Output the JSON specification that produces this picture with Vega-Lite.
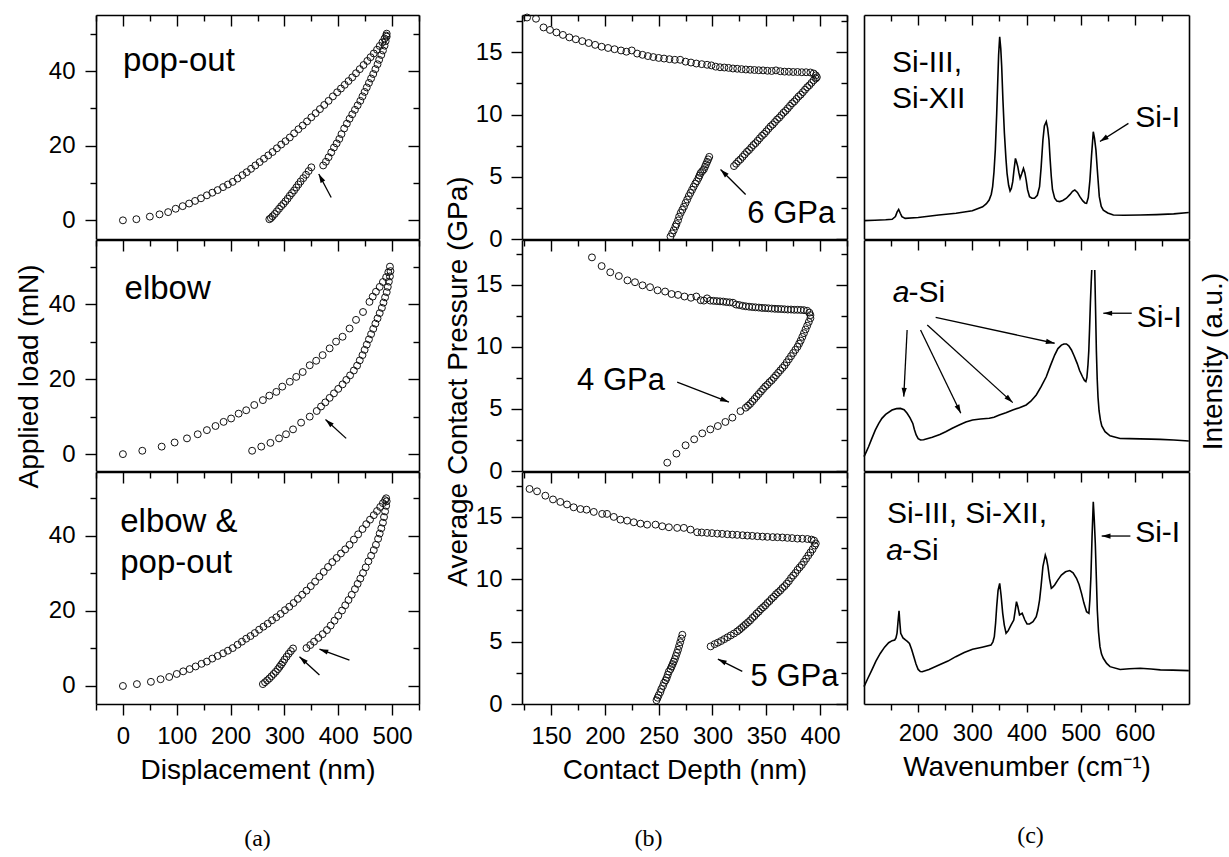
{
"$schema":"https://vega.github.io/schema/vega-lite/v6.json",
"background":"white",
"padding":{"left":15,"top":12,"right":5,"bottom":5},
"config":{"view":{"stroke":null},"axis":{"grid":false,"domainColor":"black","domainWidth":1.6,"tickColor":"black","tickWidth":1.4,"labelColor":"black","labelFont":"Liberation Sans","labelFontSize":24,"labelFlush":false,"titleFont":"Liberation Sans","titleFontSize":28,"titleFontWeight":"normal","titleColor":"black"}},
"datasets":{
"a1":[{"x":0,"y":0},{"x":25,"y":0.3},{"x":50,"y":1},{"x":68,"y":1.6},{"x":84,"y":2.2},{"x":98,"y":3.1},{"x":111,"y":3.8},{"x":123,"y":4.5},{"x":134,"y":5.2},{"x":145,"y":5.9},{"x":156,"y":6.7},{"x":166,"y":7.4},{"x":176,"y":8.1},{"x":186,"y":8.9},{"x":195,"y":9.6},{"x":204,"y":10.3},{"x":213,"y":11.2},{"x":222,"y":12.1},{"x":230,"y":12.9},{"x":238,"y":13.8},{"x":246,"y":14.7},{"x":254,"y":15.6},{"x":262,"y":16.5},{"x":270,"y":17.4},{"x":278,"y":18.3},{"x":286,"y":19.3},{"x":294,"y":20.3},{"x":302,"y":21.2},{"x":310,"y":22.2},{"x":318,"y":23.3},{"x":326,"y":24.4},{"x":334,"y":25.4},{"x":342,"y":26.5},{"x":350,"y":27.6},{"x":358,"y":28.7},{"x":366,"y":29.8},{"x":374,"y":30.9},{"x":382,"y":32},{"x":390,"y":33.2},{"x":398,"y":34.3},{"x":405,"y":35.3},{"x":412,"y":36.3},{"x":419,"y":37.3},{"x":426,"y":38.3},{"x":433,"y":39.4},{"x":440,"y":40.5},{"x":447,"y":41.6},{"x":454,"y":42.7},{"x":460,"y":43.7},{"x":466,"y":44.7},{"x":472,"y":45.7},{"x":477,"y":46.7},{"x":482,"y":47.7},{"x":486,"y":48.7},{"x":489,"y":49.5},{"x":490,"y":50},{"x":490,"y":49.2},{"x":488,"y":48},{"x":486,"y":46.8},{"x":483,"y":45.5},{"x":480,"y":44.3},{"x":476,"y":43},{"x":473,"y":41.8},{"x":469,"y":40.5},{"x":465,"y":39.2},{"x":461,"y":38},{"x":457,"y":36.8},{"x":453,"y":35.6},{"x":449,"y":34.4},{"x":445,"y":33.2},{"x":441,"y":32},{"x":436,"y":30.8},{"x":431,"y":29.6},{"x":426,"y":28.4},{"x":421,"y":27.2},{"x":416,"y":25.9},{"x":411,"y":24.6},{"x":406,"y":23.1},{"x":402,"y":21.8},{"x":397,"y":20.6},{"x":392,"y":19.5},{"x":387,"y":18.2},{"x":382,"y":16.9},{"x":377,"y":15.7},{"x":372,"y":14.7},{"x":350,"y":14.2},{"x":345,"y":13.2},{"x":340,"y":12.2},{"x":335,"y":11.3},{"x":330,"y":10.4},{"x":326,"y":9.6},{"x":322,"y":8.8},{"x":318,"y":8},{"x":314,"y":7.3},{"x":310,"y":6.6},{"x":306,"y":5.8},{"x":302,"y":5.1},{"x":298,"y":4.4},{"x":294,"y":3.8},{"x":290,"y":3.1},{"x":286,"y":2.4},{"x":282,"y":1.7},{"x":278,"y":1.1},{"x":275,"y":0.6},{"x":272,"y":0.3}],
"a1arr":[{"x":386.9,"y":6.1,"x2":363.8,"y2":12.4,"ang":332}],
"a1txt":[{"x":0,"y":40.1,"t":"pop-out"}],
"a2":[{"x":0,"y":0},{"x":36,"y":0.9},{"x":72,"y":2},{"x":96,"y":3.1},{"x":119,"y":4.2},{"x":139,"y":5.3},{"x":156,"y":6.4},{"x":172,"y":7.5},{"x":187,"y":8.6},{"x":201,"y":9.5},{"x":215,"y":10.8},{"x":229,"y":11.7},{"x":244,"y":13.1},{"x":260,"y":14.4},{"x":272,"y":15.6},{"x":285,"y":16.6},{"x":296,"y":18},{"x":310,"y":19.3},{"x":322,"y":20.6},{"x":334,"y":21.9},{"x":347,"y":23.7},{"x":359,"y":24.9},{"x":371,"y":26.4},{"x":384,"y":28.2},{"x":396,"y":30},{"x":408,"y":31.3},{"x":421,"y":33.5},{"x":433,"y":35.8},{"x":446,"y":37.9},{"x":458,"y":40.6},{"x":464,"y":42},{"x":470,"y":43.3},{"x":477,"y":44.6},{"x":483,"y":45.9},{"x":489,"y":47.2},{"x":493,"y":48.5},{"x":496,"y":50},{"x":497,"y":48.8},{"x":496,"y":47.4},{"x":494,"y":46},{"x":492,"y":44.6},{"x":490,"y":43.2},{"x":487,"y":41.8},{"x":484,"y":40.4},{"x":481,"y":39},{"x":477,"y":37.6},{"x":473,"y":36.2},{"x":469,"y":34.8},{"x":465,"y":33.4},{"x":461,"y":32},{"x":457,"y":30.6},{"x":453,"y":29.2},{"x":449,"y":27.8},{"x":445,"y":26.4},{"x":440,"y":25},{"x":435,"y":23.6},{"x":429,"y":22.3},{"x":422,"y":21},{"x":415,"y":19.8},{"x":408,"y":18.6},{"x":400,"y":17.4},{"x":392,"y":16.2},{"x":384,"y":15},{"x":376,"y":13.8},{"x":368,"y":12.7},{"x":360,"y":11.5},{"x":347,"y":10},{"x":331,"y":8.4},{"x":316,"y":6.6},{"x":303,"y":5.3},{"x":290,"y":4.2},{"x":274,"y":3},{"x":257,"y":2},{"x":240,"y":0.9}],
"a2arr":[{"x":414.7,"y":4.2,"x2":376.3,"y2":9.25,"ang":312.5}],
"a2txt":[{"x":3,"y":41.3,"t":"elbow"}],
"a3":[{"x":0,"y":0},{"x":26,"y":0.5},{"x":52,"y":1.1},{"x":70,"y":1.8},{"x":86,"y":2.4},{"x":100,"y":3.2},{"x":112,"y":3.9},{"x":124,"y":4.5},{"x":135,"y":5.2},{"x":146,"y":5.9},{"x":156,"y":6.5},{"x":166,"y":7.3},{"x":176,"y":8},{"x":186,"y":8.7},{"x":195,"y":9.4},{"x":204,"y":10.1},{"x":213,"y":11},{"x":221,"y":11.8},{"x":229,"y":12.6},{"x":237,"y":13.3},{"x":245,"y":14.1},{"x":253,"y":15},{"x":261,"y":15.8},{"x":269,"y":16.6},{"x":277,"y":17.5},{"x":285,"y":18.3},{"x":293,"y":19.2},{"x":301,"y":20.2},{"x":309,"y":21.1},{"x":317,"y":22.1},{"x":325,"y":23.2},{"x":333,"y":24.3},{"x":341,"y":25.4},{"x":349,"y":26.6},{"x":357,"y":27.8},{"x":365,"y":29.1},{"x":373,"y":30.4},{"x":381,"y":31.7},{"x":389,"y":33},{"x":397,"y":34.1},{"x":405,"y":35.3},{"x":413,"y":36.4},{"x":421,"y":37.6},{"x":429,"y":39},{"x":437,"y":40.4},{"x":445,"y":41.8},{"x":452,"y":43.1},{"x":459,"y":44.3},{"x":466,"y":45.5},{"x":472,"y":46.6},{"x":478,"y":47.7},{"x":483,"y":48.7},{"x":487,"y":49.5},{"x":489,"y":50},{"x":490,"y":49.2},{"x":489,"y":48},{"x":487,"y":46.5},{"x":485,"y":45},{"x":483,"y":43.5},{"x":480,"y":42},{"x":477,"y":40.6},{"x":474,"y":39.2},{"x":470,"y":37.6},{"x":466,"y":36.2},{"x":461,"y":34.7},{"x":456,"y":33.2},{"x":451,"y":31.6},{"x":446,"y":30.1},{"x":441,"y":28.6},{"x":436,"y":27.2},{"x":431,"y":25.8},{"x":425,"y":24.3},{"x":419,"y":22.9},{"x":413,"y":21.5},{"x":407,"y":20.1},{"x":400,"y":18.7},{"x":393,"y":17.4},{"x":386,"y":16.1},{"x":379,"y":14.9},{"x":371,"y":13.8},{"x":363,"y":12.8},{"x":355,"y":11.8},{"x":348,"y":10.9},{"x":341,"y":10.1},{"x":316,"y":10},{"x":312,"y":9.3},{"x":308,"y":8.6},{"x":304,"y":7.8},{"x":300,"y":7},{"x":297,"y":6.3},{"x":294,"y":5.7},{"x":291,"y":5.1},{"x":288,"y":4.5},{"x":284,"y":3.8},{"x":280,"y":3.2},{"x":276,"y":2.6},{"x":272,"y":2},{"x":268,"y":1.5},{"x":264,"y":1},{"x":260,"y":0.5}],
"a3arr":[{"x":365.1,"y":2.9,"x2":328,"y2":7.8,"ang":312},{"x":420.8,"y":6.9,"x2":365.1,"y2":9.8,"ang":289.6}],
"a3txt":[{"x":-5,"y":41.1,"t":"elbow &"},{"x":-5,"y":30,"t":"pop-out"}],
"b1":[{"x":127.7,"y":17.8},{"x":136,"y":17.7},{"x":143,"y":17},{"x":149,"y":16.8},{"x":155,"y":16.6},{"x":161,"y":16.4},{"x":167,"y":16.2},{"x":173,"y":16.05},{"x":179,"y":15.9},{"x":185,"y":15.75},{"x":191,"y":15.6},{"x":197,"y":15.45},{"x":203,"y":15.35},{"x":209,"y":15.25},{"x":215,"y":15.15},{"x":220,"y":15.05},{"x":225,"y":15.15},{"x":230,"y":14.9},{"x":235,"y":14.8},{"x":240,"y":14.7},{"x":245,"y":14.62},{"x":250,"y":14.55},{"x":255,"y":14.5},{"x":260,"y":14.45},{"x":265,"y":14.4},{"x":270,"y":14.4},{"x":275,"y":14.25},{"x":280,"y":14.18},{"x":285,"y":14.1},{"x":290,"y":14.05},{"x":295,"y":14},{"x":299,"y":13.95},{"x":303,"y":13.85},{"x":307,"y":13.8},{"x":311,"y":13.78},{"x":315,"y":13.75},{"x":319,"y":13.7},{"x":323,"y":13.68},{"x":327,"y":13.65},{"x":331,"y":13.62},{"x":335,"y":13.6},{"x":339,"y":13.58},{"x":343,"y":13.56},{"x":347,"y":13.55},{"x":351,"y":13.52},{"x":355,"y":13.5},{"x":359,"y":13.55},{"x":363,"y":13.48},{"x":367,"y":13.45},{"x":371,"y":13.44},{"x":375,"y":13.42},{"x":379,"y":13.42},{"x":383,"y":13.4},{"x":387,"y":13.4},{"x":391,"y":13.38},{"x":394,"y":13.3},{"x":396,"y":13.15},{"x":397,"y":13},{"x":396,"y":12.9},{"x":394,"y":12.75},{"x":392,"y":12.55},{"x":390,"y":12.35},{"x":388,"y":12.2},{"x":386,"y":12},{"x":384,"y":11.8},{"x":382,"y":11.6},{"x":380,"y":11.45},{"x":378,"y":11.25},{"x":376,"y":11.05},{"x":374,"y":10.9},{"x":372,"y":10.7},{"x":370,"y":10.5},{"x":368,"y":10.3},{"x":366,"y":10.15},{"x":364,"y":9.95},{"x":362,"y":9.75},{"x":360,"y":9.6},{"x":358,"y":9.4},{"x":356,"y":9.2},{"x":354,"y":9.05},{"x":352,"y":8.85},{"x":350,"y":8.65},{"x":348,"y":8.45},{"x":346,"y":8.3},{"x":344,"y":8.1},{"x":342,"y":7.9},{"x":340,"y":7.7},{"x":338,"y":7.55},{"x":336,"y":7.35},{"x":334,"y":7.15},{"x":332,"y":7},{"x":330,"y":6.8},{"x":328,"y":6.6},{"x":326,"y":6.4},{"x":324,"y":6.25},{"x":322,"y":6.05},{"x":320,"y":5.86},{"x":297,"y":6.6},{"x":296,"y":6.4},{"x":295,"y":6.2},{"x":294,"y":6},{"x":293,"y":5.8},{"x":292,"y":5.6},{"x":290.5,"y":5.45},{"x":289,"y":5.3},{"x":288,"y":5.1},{"x":287,"y":4.9},{"x":285.5,"y":4.65},{"x":284,"y":4.45},{"x":282.5,"y":4.2},{"x":281,"y":3.95},{"x":279.5,"y":3.7},{"x":278,"y":3.45},{"x":276.5,"y":3.17},{"x":275,"y":2.9},{"x":273.5,"y":2.6},{"x":272,"y":2.35},{"x":270.5,"y":2.1},{"x":269,"y":1.8},{"x":268,"y":1.5},{"x":266.5,"y":1.2},{"x":265.5,"y":1},{"x":264,"y":0.7},{"x":262.5,"y":0.45},{"x":261,"y":0.2}],
"b1arr":[{"x":330.8,"y":3.57,"x2":307.5,"y2":5.59,"ang":315}],
"b1txt":[{"x":332.4,"y":1.29,"t":"6 GPa"}],
"b2":[{"x":188,"y":17.2},{"x":197,"y":16.5},{"x":205,"y":16},{"x":213,"y":15.7},{"x":221,"y":15.35},{"x":228,"y":15.2},{"x":235,"y":14.95},{"x":242,"y":14.8},{"x":249,"y":14.55},{"x":256,"y":14.45},{"x":262,"y":14.25},{"x":268,"y":14.18},{"x":274,"y":14.05},{"x":280,"y":13.95},{"x":285,"y":14.05},{"x":289,"y":13.75},{"x":292,"y":13.72},{"x":295,"y":13.9},{"x":298,"y":13.72},{"x":301,"y":13.7},{"x":304,"y":13.68},{"x":307,"y":13.66},{"x":310,"y":13.64},{"x":313,"y":13.6},{"x":316,"y":13.58},{"x":319,"y":13.55},{"x":322,"y":13.4},{"x":325,"y":13.36},{"x":328,"y":13.3},{"x":331,"y":13.26},{"x":334,"y":13.23},{"x":337,"y":13.2},{"x":340,"y":13.18},{"x":343,"y":13.16},{"x":346,"y":13.13},{"x":349,"y":13.12},{"x":352,"y":13.1},{"x":355,"y":13.08},{"x":358,"y":13.06},{"x":361,"y":13.05},{"x":364,"y":13.04},{"x":367,"y":13.02},{"x":370,"y":13},{"x":373,"y":13},{"x":376,"y":12.98},{"x":379,"y":12.98},{"x":382,"y":12.97},{"x":385,"y":12.95},{"x":388,"y":12.9},{"x":390,"y":12.75},{"x":391,"y":12.55},{"x":391,"y":12.3},{"x":389.5,"y":12},{"x":388,"y":11.7},{"x":386.5,"y":11.4},{"x":385,"y":11.1},{"x":383.5,"y":10.8},{"x":382,"y":10.5},{"x":380.5,"y":10.25},{"x":379,"y":10},{"x":377,"y":9.75},{"x":375,"y":9.5},{"x":373,"y":9.25},{"x":371,"y":9},{"x":369,"y":8.75},{"x":367,"y":8.5},{"x":365,"y":8.3},{"x":363,"y":8.1},{"x":361,"y":7.9},{"x":359,"y":7.7},{"x":357,"y":7.5},{"x":355,"y":7.3},{"x":353,"y":7.15},{"x":351,"y":6.95},{"x":349,"y":6.8},{"x":347,"y":6.6},{"x":345,"y":6.4},{"x":343,"y":6.2},{"x":341,"y":6},{"x":339,"y":5.8},{"x":337,"y":5.6},{"x":335,"y":5.4},{"x":333,"y":5.25},{"x":331,"y":5.1},{"x":326,"y":4.82},{"x":318.5,"y":4.3},{"x":312,"y":3.95},{"x":305,"y":3.62},{"x":298,"y":3.35},{"x":290.5,"y":3.03},{"x":283,"y":2.55},{"x":275,"y":2.07},{"x":266.5,"y":1.4},{"x":258,"y":0.67}],
"b2arr":[{"x":267.2,"y":7.15,"x2":315.3,"y2":5.55,"ang":111}],
"b2txt":[{"x":174.2,"y":6.49,"t":"4 GPa"}],
"b3":[{"x":130,"y":17.24},{"x":137,"y":17.05},{"x":144.7,"y":16.7},{"x":151.8,"y":16.4},{"x":158.6,"y":16.2},{"x":164.8,"y":16},{"x":171,"y":15.77},{"x":177.3,"y":15.63},{"x":183,"y":15.58},{"x":189.7,"y":15.4},{"x":197.5,"y":15.24},{"x":202,"y":15.24},{"x":208.3,"y":15},{"x":214.5,"y":14.78},{"x":220.7,"y":14.7},{"x":226.9,"y":14.57},{"x":233.1,"y":14.46},{"x":239.3,"y":14.38},{"x":247.1,"y":14.38},{"x":253.3,"y":14.25},{"x":259.5,"y":14.17},{"x":267.2,"y":14.12},{"x":273.4,"y":14.12},{"x":279.6,"y":13.98},{"x":285.8,"y":13.77},{"x":290,"y":13.75},{"x":295,"y":13.72},{"x":299.5,"y":13.7},{"x":304.5,"y":13.66},{"x":309,"y":13.64},{"x":313.8,"y":13.61},{"x":318.5,"y":13.58},{"x":323,"y":13.56},{"x":328,"y":13.53},{"x":332.4,"y":13.5},{"x":337,"y":13.48},{"x":341.7,"y":13.45},{"x":346.5,"y":13.42},{"x":351,"y":13.4},{"x":356,"y":13.38},{"x":360.3,"y":13.37},{"x":365,"y":13.35},{"x":369.6,"y":13.32},{"x":374,"y":13.3},{"x":378.9,"y":13.26},{"x":383.5,"y":13.25},{"x":388.2,"y":13.23},{"x":392,"y":13.18},{"x":394.4,"y":13.1},{"x":396,"y":12.87},{"x":395,"y":12.7},{"x":393,"y":12.4},{"x":391,"y":12.15},{"x":389,"y":11.9},{"x":387,"y":11.65},{"x":385,"y":11.4},{"x":383,"y":11.15},{"x":381,"y":10.95},{"x":379,"y":10.75},{"x":377,"y":10.5},{"x":375,"y":10.3},{"x":373,"y":10.1},{"x":371,"y":9.85},{"x":369,"y":9.65},{"x":367,"y":9.45},{"x":365,"y":9.3},{"x":363,"y":9.1},{"x":361,"y":8.95},{"x":359,"y":8.8},{"x":357,"y":8.6},{"x":355,"y":8.45},{"x":353,"y":8.25},{"x":351,"y":8.1},{"x":349,"y":7.9},{"x":347,"y":7.75},{"x":345,"y":7.6},{"x":343,"y":7.4},{"x":341,"y":7.25},{"x":339,"y":7.05},{"x":337,"y":6.9},{"x":335,"y":6.7},{"x":333,"y":6.55},{"x":331,"y":6.4},{"x":329,"y":6.25},{"x":327,"y":6.1},{"x":325,"y":5.95},{"x":323,"y":5.82},{"x":320,"y":5.65},{"x":317,"y":5.5},{"x":314,"y":5.35},{"x":311,"y":5.2},{"x":308,"y":5.05},{"x":305,"y":4.92},{"x":302,"y":4.8},{"x":298.3,"y":4.62},{"x":272,"y":5.55},{"x":271,"y":5.25},{"x":270,"y":4.95},{"x":269,"y":4.65},{"x":268,"y":4.35},{"x":267,"y":4.1},{"x":266,"y":3.85},{"x":265,"y":3.6},{"x":264,"y":3.4},{"x":263,"y":3.2},{"x":262,"y":3},{"x":261,"y":2.8},{"x":259.5,"y":2.6},{"x":258.5,"y":2.35},{"x":257.5,"y":2.1},{"x":256.5,"y":1.9},{"x":255,"y":1.7},{"x":254,"y":1.45},{"x":252.5,"y":1.2},{"x":251.5,"y":0.95},{"x":250,"y":0.7},{"x":249,"y":0.5},{"x":248,"y":0.3}],
"b3arr":[{"x":327.7,"y":2.62,"x2":305,"y2":3.6,"ang":296.7}],
"b3txt":[{"x":335.4,"y":1.47,"t":"5 GPa"}],
"c1":[{"x":100,"y":8.2},{"x":120,"y":8.4},{"x":140,"y":8.6},{"x":152,"y":8.8},{"x":158,"y":10},{"x":161,"y":12},{"x":164,"y":13.2},{"x":167,"y":11.5},{"x":170,"y":10},{"x":176,"y":9.2},{"x":200,"y":9.6},{"x":238,"y":10.7},{"x":270,"y":11.5},{"x":300,"y":12.6},{"x":319,"y":14.4},{"x":326,"y":15.8},{"x":331,"y":17.4},{"x":335,"y":20},{"x":337.5,"y":23.4},{"x":340,"y":30},{"x":342.4,"y":39.7},{"x":345,"y":56},{"x":346.8,"y":69.5},{"x":348.5,"y":82},{"x":350.5,"y":90.3},{"x":352.5,"y":85},{"x":354.2,"y":77},{"x":356.5,"y":62},{"x":359.2,"y":47.2},{"x":362,"y":36},{"x":364.1,"y":29.3},{"x":367,"y":24},{"x":369.7,"y":21.4},{"x":372,"y":22.5},{"x":374.6,"y":25.6},{"x":377,"y":31},{"x":379.6,"y":36},{"x":381.5,"y":34.5},{"x":383.9,"y":32.3},{"x":386,"y":29.5},{"x":388.2,"y":27.1},{"x":391,"y":29},{"x":394.4,"y":31.5},{"x":397,"y":29.5},{"x":399.4,"y":26.3},{"x":402,"y":22},{"x":405.6,"y":18.9},{"x":410,"y":18.2},{"x":414.8,"y":18.2},{"x":420,"y":19.5},{"x":424.1,"y":23.4},{"x":427,"y":32},{"x":430.3,"y":44.2},{"x":433,"y":50.5},{"x":436.5,"y":52.4},{"x":439,"y":49.5},{"x":441.5,"y":44.2},{"x":443.5,"y":36},{"x":445.8,"y":27.8},{"x":448,"y":22},{"x":452,"y":18.2},{"x":456,"y":17},{"x":461.3,"y":16.7},{"x":467,"y":17.2},{"x":473.7,"y":18.2},{"x":480,"y":19.8},{"x":485,"y":21.3},{"x":489.2,"y":21.9},{"x":494,"y":20.8},{"x":498.5,"y":18.9},{"x":504,"y":17},{"x":508,"y":16.1},{"x":510.9,"y":15.9},{"x":514,"y":18.5},{"x":517.1,"y":26.3},{"x":520,"y":37},{"x":523.3,"y":47.9},{"x":525.5,"y":45},{"x":528.2,"y":39.7},{"x":531,"y":30},{"x":534.4,"y":18.9},{"x":538,"y":14.5},{"x":541.8,"y":12.9},{"x":550,"y":11.6},{"x":560.4,"y":10.7},{"x":580,"y":10.6},{"x":609.9,"y":10.7},{"x":640,"y":10.9},{"x":671.8,"y":11.2},{"x":699.7,"y":11.8}],
"c1arr":[{"x":588.2,"y":51.6,"x2":535.6,"y2":43.5,"ang":237}],
"c1txt":[{"x":151.7,"y":74.7,"t":"Si-III,"},{"x":151.7,"y":58.3,"t":"Si-XII"},{"x":600.6,"y":50.1,"t":"Si-I"}],
"c2":[{"x":100,"y":6.2},{"x":104,"y":8.2},{"x":108.4,"y":10.5},{"x":114,"y":13.8},{"x":120.8,"y":17.7},{"x":127,"y":20.5},{"x":133.1,"y":22.8},{"x":140,"y":24.5},{"x":151.7,"y":26.4},{"x":160,"y":27},{"x":167.2,"y":27.1},{"x":174,"y":26.5},{"x":179.6,"y":25},{"x":185,"y":23},{"x":190.1,"y":20.6},{"x":193,"y":18},{"x":196.3,"y":15.6},{"x":200,"y":14},{"x":204.4,"y":13.4},{"x":210,"y":13.5},{"x":226.1,"y":14.6},{"x":240,"y":15.8},{"x":250.8,"y":17},{"x":263,"y":18.5},{"x":275.6,"y":19.9},{"x":288,"y":21.2},{"x":300.4,"y":22.1},{"x":315,"y":22.5},{"x":331.3,"y":22.8},{"x":340,"y":23.3},{"x":349.9,"y":24.2},{"x":362,"y":25.2},{"x":374.6,"y":26.4},{"x":387,"y":27.4},{"x":399.4,"y":28.6},{"x":408,"y":30.2},{"x":418,"y":32.9},{"x":427,"y":36.5},{"x":436.5,"y":40.8},{"x":444,"y":45.5},{"x":452,"y":50.2},{"x":458,"y":53},{"x":464.4,"y":54.5},{"x":469,"y":55},{"x":473.7,"y":55},{"x":478,"y":54.2},{"x":483,"y":52.4},{"x":488,"y":49.8},{"x":493.5,"y":46.6},{"x":498,"y":43.5},{"x":503.4,"y":40.8},{"x":507,"y":39.2},{"x":509.6,"y":38.7},{"x":511.5,"y":40.5},{"x":513.5,"y":46},{"x":515,"y":52},{"x":516.5,"y":62},{"x":518,"y":73},{"x":519.5,"y":82},{"x":520.5,"y":87},{"x":523,"y":null},{"x":526,"y":87},{"x":527.5,"y":70},{"x":529,"y":52},{"x":530.5,"y":40},{"x":532,"y":32},{"x":534,"y":26},{"x":536.5,"y":22},{"x":539,"y":19.5},{"x":545,"y":17},{"x":554.2,"y":15.2},{"x":572.8,"y":14.1},{"x":590,"y":14},{"x":609.9,"y":13.9},{"x":630,"y":13.8},{"x":647.1,"y":13.7},{"x":671.8,"y":13.4},{"x":699.7,"y":13}],
"c2arr":[{"x":179.6,"y":61,"x2":173.4,"y2":32.2,"ang":183},{"x":204.4,"y":61,"x2":278.7,"y2":25,"ang":154.3},{"x":216.8,"y":63.2,"x2":374.6,"y2":29.6,"ang":132.4},{"x":232.3,"y":66.5,"x2":452,"y2":55.3,"ang":102.4},{"x":594.3,"y":68.3,"x2":541.8,"y2":68.3,"ang":270}],
"c2txt":[{"x":603.6,"y":62.5,"t":"Si-I"},{"x":182,"y":73.3,"t":"-Si"}],
"c2ital":[{"x":153,"y":73.3,"t":"a"}],
"c3":[{"x":100,"y":7.5},{"x":107,"y":11},{"x":114.6,"y":14.7},{"x":122,"y":18.5},{"x":130,"y":21.8},{"x":138,"y":24.5},{"x":145.5,"y":26.4},{"x":152,"y":27.3},{"x":156.7,"y":27.6},{"x":159,"y":28.5},{"x":161,"y":30.5},{"x":163,"y":36},{"x":164.7,"y":40.2},{"x":166.2,"y":35},{"x":167.8,"y":30.5},{"x":172,"y":28.5},{"x":176.5,"y":27.6},{"x":180,"y":27},{"x":183.9,"y":26.1},{"x":188,"y":23.5},{"x":192,"y":20.4},{"x":196,"y":17.2},{"x":200,"y":14.9},{"x":204,"y":14},{"x":207.4,"y":13.9},{"x":220,"y":14.9},{"x":238.4,"y":16.8},{"x":255,"y":18.5},{"x":269.4,"y":20.4},{"x":285,"y":22.2},{"x":300.4,"y":23.6},{"x":318,"y":24.5},{"x":334.4,"y":25.4},{"x":338,"y":26.8},{"x":340.6,"y":29},{"x":343,"y":35},{"x":345,"y":42},{"x":347.5,"y":49},{"x":350.5,"y":52},{"x":353,"y":47},{"x":356.1,"y":39.1},{"x":359,"y":34},{"x":362.3,"y":30.5},{"x":366,"y":31.5},{"x":371.6,"y":34.1},{"x":376.5,"y":36.2},{"x":379,"y":40},{"x":381.5,"y":44.1},{"x":384,"y":42},{"x":387.1,"y":38.4},{"x":392,"y":39.1},{"x":397,"y":36.2},{"x":401,"y":34.5},{"x":405.6,"y":34.5},{"x":412,"y":35.5},{"x":418,"y":37.6},{"x":421,"y":40.5},{"x":424.1,"y":44.8},{"x":427,"y":51},{"x":430.3,"y":59.2},{"x":434.7,"y":64.2},{"x":437,"y":62.5},{"x":439.6,"y":59.2},{"x":442.5,"y":54},{"x":445.8,"y":49.9},{"x":448,"y":50.3},{"x":452,"y":51.3},{"x":458,"y":53.5},{"x":464.4,"y":55.6},{"x":472,"y":57},{"x":479.9,"y":57.5},{"x":486,"y":56.5},{"x":492.3,"y":54.2},{"x":497,"y":51.5},{"x":501.6,"y":47.7},{"x":506,"y":43.5},{"x":510.9,"y":39.8},{"x":515.2,"y":39.1},{"x":517,"y":45},{"x":518.9,"y":54.9},{"x":521,"y":72},{"x":523.3,"y":87.2},{"x":525,"y":80},{"x":527,"y":69.3},{"x":529,"y":54},{"x":530.7,"y":40.5},{"x":533,"y":31},{"x":535.6,"y":24.7},{"x":538.5,"y":21.5},{"x":541.8,"y":19.7},{"x":548,"y":17.5},{"x":554.2,"y":16.1},{"x":572.8,"y":14.9},{"x":590,"y":15.2},{"x":609.9,"y":15.4},{"x":630,"y":15.1},{"x":647.1,"y":14.7},{"x":670,"y":14.6},{"x":699.7,"y":14.4}],
"c3arr":[{"x":591.8,"y":72.4,"x2":538.8,"y2":72.4,"ang":270}],
"c3txt":[{"x":142.4,"y":77.9,"t":"Si-III, Si-XII,"},{"x":170,"y":62.1,"t":"-Si"},{"x":600.6,"y":70,"t":"Si-I"}],
"c3ital":[{"x":141,"y":62.1,"t":"a"}]
},
"columns":3,
"spacing":{"row":1,"column":17},
"bounds":"flush",
"concat":[
 {"width":409,"height":224,"resolve":{"axis":{"x":"independent","y":"independent"}},"layer":[
  {"data":{"name":"a1"},"mark":{"type":"point","shape":"circle","size":48,"filled":false,"color":"#111111","strokeWidth":1,"opacity":1},"encoding":{"x":{"field":"x","type":"quantitative","scale":{"domain":[-50,550],"range":[0,323],"nice":false,"zero":false},"axis":{"orient":"bottom","ticks":false,"labels":false,"title":null}},"y":{"field":"y","type":"quantitative","scale":{"domain":[-5,55],"nice":false,"zero":false},"axis":{"orient":"left","values":[0,20,40],"tickSize":11,"labelPadding":10,"title":null}}}},
  {"data":{"name":"a1arr"},"mark":{"type":"rule","color":"black","strokeWidth":1.3},"encoding":{"x":{"field":"x","type":"quantitative","scale":{"domain":[-50,550],"range":[0,323],"nice":false,"zero":false},"axis":{"orient":"top","values":[0,100,200,300,400,500],"tickSize":-11,"labels":false,"title":null}},"y":{"field":"y","type":"quantitative","scale":{"domain":[-5,55],"nice":false,"zero":false},"axis":{"orient":"right","offset":-86,"values":[0,20,40],"tickSize":-11,"labels":false,"title":null}},"x2":{"field":"x2"},"y2":{"field":"y2"}}},
  {"data":{"name":"a1arr"},"mark":{"type":"point","shape":"M0,0L0.65,2.2L-0.65,2.2Z","size":64,"filled":true,"color":"black","opacity":1},"encoding":{"x":{"field":"x2","type":"quantitative","scale":{"domain":[-50,550],"range":[0,323],"nice":false,"zero":false},"axis":null},"y":{"field":"y2","type":"quantitative","scale":{"domain":[-5,55],"nice":false,"zero":false},"axis":{"orient":"left","values":[10,30,50],"tickSize":6,"labels":false,"domain":false,"title":null}},"angle":{"field":"ang","type":"quantitative","scale":null}}},
  {"data":{"name":"a1txt"},"mark":{"type":"text","align":"left","baseline":"alphabetic","font":"Liberation Sans","fontSize":33,"color":"black"},"encoding":{"x":{"field":"x","type":"quantitative","scale":{"domain":[-50,550],"range":[0,323],"nice":false,"zero":false},"axis":{"orient":"top","values":[-50,50,150,250,350,450,550],"tickSize":-6,"labels":false,"domain":false,"title":null}},"y":{"field":"y","type":"quantitative","scale":{"domain":[-5,55],"nice":false,"zero":false},"axis":{"orient":"right","offset":-86,"values":[10,30,50],"tickSize":-6,"labels":false,"domain":false,"title":null}},"text":{"field":"t"}}}
 ]},
 {"width":325,"height":224,"resolve":{"axis":{"x":"independent","y":"independent"}},"layer":[
  {"data":{"name":"b1"},"mark":{"type":"point","shape":"circle","size":48,"filled":false,"color":"#111111","strokeWidth":1,"opacity":1},"encoding":{"x":{"field":"x","type":"quantitative","scale":{"domain":[123,425],"nice":false,"zero":false},"axis":{"orient":"bottom","ticks":false,"labels":false,"title":null}},"y":{"field":"y","type":"quantitative","scale":{"domain":[0,18],"nice":false,"zero":false},"axis":{"orient":"left","values":[0,5,10,15],"tickSize":11,"labelPadding":9,"title":null}}}},
  {"data":{"name":"b1arr"},"mark":{"type":"rule","color":"black","strokeWidth":1.3},"encoding":{"x":{"field":"x","type":"quantitative","scale":{"domain":[123,425],"nice":false,"zero":false},"axis":{"orient":"top","values":[150,200,250,300,350,400],"tickSize":-11,"labels":false,"title":null}},"y":{"field":"y","type":"quantitative","scale":{"domain":[0,18],"nice":false,"zero":false},"axis":{"orient":"right","values":[0,5,10,15],"tickSize":-11,"labels":false,"title":null}},"x2":{"field":"x2"},"y2":{"field":"y2"}}},
  {"data":{"name":"b1arr"},"mark":{"type":"point","shape":"M0,0L0.65,2.2L-0.65,2.2Z","size":64,"filled":true,"color":"black","opacity":1},"encoding":{"x":{"field":"x2","type":"quantitative","scale":{"domain":[123,425],"nice":false,"zero":false},"axis":null},"y":{"field":"y2","type":"quantitative","scale":{"domain":[0,18],"nice":false,"zero":false},"axis":{"orient":"left","values":[2.5,7.5,12.5,17.5],"tickSize":6,"labels":false,"domain":false,"title":null}},"angle":{"field":"ang","type":"quantitative","scale":null}}},
  {"data":{"name":"b1txt"},"mark":{"type":"text","align":"left","baseline":"alphabetic","font":"Liberation Sans","fontSize":31,"color":"black"},"encoding":{"x":{"field":"x","type":"quantitative","scale":{"domain":[123,425],"nice":false,"zero":false},"axis":{"orient":"top","values":[125,175,225,275,325,375,425],"tickSize":-6,"labels":false,"domain":false,"title":null}},"y":{"field":"y","type":"quantitative","scale":{"domain":[0,18],"nice":false,"zero":false},"axis":{"orient":"right","values":[2.5,7.5,12.5,17.5],"tickSize":-6,"labels":false,"domain":false,"title":null}},"text":{"field":"t"}}}
 ]},
 {"width":325,"height":224,"resolve":{"axis":{"x":"independent","y":"independent"}},"layer":[
  {"data":{"name":"c1"},"mark":{"type":"line","color":"black","strokeWidth":1.6},"encoding":{"x":{"field":"x","type":"quantitative","scale":{"domain":[100,700],"nice":false,"zero":false},"axis":{"orient":"bottom","ticks":false,"labels":false,"title":null}},"y":{"field":"y","type":"quantitative","scale":{"domain":[0,100],"nice":false,"zero":false},"axis":{"orient":"left","ticks":false,"labels":false,"title":null}}}},
  {"data":{"name":"c1arr"},"mark":{"type":"rule","color":"black","strokeWidth":1.3},"encoding":{"x":{"field":"x","type":"quantitative","scale":{"domain":[100,700],"nice":false,"zero":false},"axis":{"orient":"top","values":[200,300,400,500,600],"tickSize":-10,"labels":false,"title":null}},"y":{"field":"y","type":"quantitative","scale":{"domain":[0,100],"nice":false,"zero":false},"axis":{"orient":"right","ticks":false,"labels":false,"title":null}},"x2":{"field":"x2"},"y2":{"field":"y2"}}},
  {"data":{"name":"c1arr"},"mark":{"type":"point","shape":"M0,0L0.65,2.2L-0.65,2.2Z","size":64,"filled":true,"color":"black","opacity":1},"encoding":{"x":{"field":"x2","type":"quantitative","scale":{"domain":[100,700],"nice":false,"zero":false},"axis":null},"y":{"field":"y2","type":"quantitative","scale":{"domain":[0,100],"nice":false,"zero":false},"axis":null},"angle":{"field":"ang","type":"quantitative","scale":null}}},
  {"data":{"name":"c1txt"},"mark":{"type":"text","align":"left","baseline":"alphabetic","font":"Liberation Sans","fontSize":30,"color":"black"},"encoding":{"x":{"field":"x","type":"quantitative","scale":{"domain":[100,700],"nice":false,"zero":false},"axis":{"orient":"top","values":[150,250,350,450,550,650],"tickSize":-6,"labels":false,"domain":false,"title":null}},"y":{"field":"y","type":"quantitative","scale":{"domain":[0,100],"nice":false,"zero":false},"axis":null},"text":{"field":"t"}}}
 ]},
 {"width":409,"height":231,"resolve":{"axis":{"x":"independent","y":"independent"}},"layer":[
  {"data":{"name":"a2"},"mark":{"type":"point","shape":"circle","size":48,"filled":false,"color":"#111111","strokeWidth":1,"opacity":1},"encoding":{"x":{"field":"x","type":"quantitative","scale":{"domain":[-50,550],"range":[0,323],"nice":false,"zero":false},"axis":{"orient":"bottom","ticks":false,"labels":false,"title":null}},"y":{"field":"y","type":"quantitative","scale":{"domain":[-4.5,57.1],"nice":false,"zero":false},"axis":{"orient":"left","values":[0,20,40],"tickSize":11,"labelPadding":10,"title":"Applied load (mN)","titlePadding":5,"titleY":136}}}},
  {"data":{"name":"a2arr"},"mark":{"type":"rule","color":"black","strokeWidth":1.3},"encoding":{"x":{"field":"x","type":"quantitative","scale":{"domain":[-50,550],"range":[0,323],"nice":false,"zero":false},"axis":{"orient":"top","values":[0,100,200,300,400,500],"tickSize":-11,"labels":false,"title":null}},"y":{"field":"y","type":"quantitative","scale":{"domain":[-4.5,57.1],"nice":false,"zero":false},"axis":{"orient":"right","offset":-86,"values":[0,20,40],"tickSize":-11,"labels":false,"title":null}},"x2":{"field":"x2"},"y2":{"field":"y2"}}},
  {"data":{"name":"a2arr"},"mark":{"type":"point","shape":"M0,0L0.65,2.2L-0.65,2.2Z","size":64,"filled":true,"color":"black","opacity":1},"encoding":{"x":{"field":"x2","type":"quantitative","scale":{"domain":[-50,550],"range":[0,323],"nice":false,"zero":false},"axis":null},"y":{"field":"y2","type":"quantitative","scale":{"domain":[-4.5,57.1],"nice":false,"zero":false},"axis":{"orient":"left","values":[10,30,50],"tickSize":6,"labels":false,"domain":false,"title":null}},"angle":{"field":"ang","type":"quantitative","scale":null}}},
  {"data":{"name":"a2txt"},"mark":{"type":"text","align":"left","baseline":"alphabetic","font":"Liberation Sans","fontSize":33,"color":"black"},"encoding":{"x":{"field":"x","type":"quantitative","scale":{"domain":[-50,550],"range":[0,323],"nice":false,"zero":false},"axis":{"orient":"top","values":[-50,50,150,250,350,450,550],"tickSize":-6,"labels":false,"domain":false,"title":null}},"y":{"field":"y","type":"quantitative","scale":{"domain":[-4.5,57.1],"nice":false,"zero":false},"axis":{"orient":"right","offset":-86,"values":[10,30,50],"tickSize":-6,"labels":false,"domain":false,"title":null}},"text":{"field":"t"}}}
 ]},
 {"width":325,"height":231,"resolve":{"axis":{"x":"independent","y":"independent"}},"layer":[
  {"data":{"name":"b2"},"mark":{"type":"point","shape":"circle","size":48,"filled":false,"color":"#111111","strokeWidth":1,"opacity":1},"encoding":{"x":{"field":"x","type":"quantitative","scale":{"domain":[123,425],"nice":false,"zero":false},"axis":{"orient":"bottom","ticks":false,"labels":false,"title":null}},"y":{"field":"y","type":"quantitative","scale":{"domain":[0,18.6],"nice":false,"zero":false},"axis":{"orient":"left","values":[0,5,10,15],"tickSize":11,"labelPadding":9,"title":"Average Contact Pressure (GPa)","titlePadding":3,"titleY":141}}}},
  {"data":{"name":"b2arr"},"mark":{"type":"rule","color":"black","strokeWidth":1.3},"encoding":{"x":{"field":"x","type":"quantitative","scale":{"domain":[123,425],"nice":false,"zero":false},"axis":{"orient":"top","values":[150,200,250,300,350,400],"tickSize":-11,"labels":false,"title":null}},"y":{"field":"y","type":"quantitative","scale":{"domain":[0,18.6],"nice":false,"zero":false},"axis":{"orient":"right","values":[0,5,10,15],"tickSize":-11,"labels":false,"title":null}},"x2":{"field":"x2"},"y2":{"field":"y2"}}},
  {"data":{"name":"b2arr"},"mark":{"type":"point","shape":"M0,0L0.65,2.2L-0.65,2.2Z","size":64,"filled":true,"color":"black","opacity":1},"encoding":{"x":{"field":"x2","type":"quantitative","scale":{"domain":[123,425],"nice":false,"zero":false},"axis":null},"y":{"field":"y2","type":"quantitative","scale":{"domain":[0,18.6],"nice":false,"zero":false},"axis":{"orient":"left","values":[2.5,7.5,12.5,17.5],"tickSize":6,"labels":false,"domain":false,"title":null}},"angle":{"field":"ang","type":"quantitative","scale":null}}},
  {"data":{"name":"b2txt"},"mark":{"type":"text","align":"left","baseline":"alphabetic","font":"Liberation Sans","fontSize":31,"color":"black"},"encoding":{"x":{"field":"x","type":"quantitative","scale":{"domain":[123,425],"nice":false,"zero":false},"axis":{"orient":"top","values":[125,175,225,275,325,375,425],"tickSize":-6,"labels":false,"domain":false,"title":null}},"y":{"field":"y","type":"quantitative","scale":{"domain":[0,18.6],"nice":false,"zero":false},"axis":{"orient":"right","values":[2.5,7.5,12.5,17.5],"tickSize":-6,"labels":false,"domain":false,"title":null}},"text":{"field":"t"}}}
 ]},
 {"width":325,"height":231,"resolve":{"axis":{"x":"independent","y":"independent"}},"layer":[
  {"data":{"name":"c2"},"mark":{"type":"line","color":"black","strokeWidth":1.6},"encoding":{"x":{"field":"x","type":"quantitative","scale":{"domain":[100,700],"nice":false,"zero":false},"axis":{"orient":"bottom","ticks":false,"labels":false,"title":null}},"y":{"field":"y","type":"quantitative","scale":{"domain":[0,100],"nice":false,"zero":false},"axis":{"orient":"left","ticks":false,"labels":false,"title":null}}}},
  {"data":{"name":"c2arr"},"mark":{"type":"rule","color":"black","strokeWidth":1.3},"encoding":{"x":{"field":"x","type":"quantitative","scale":{"domain":[100,700],"nice":false,"zero":false},"axis":{"orient":"top","values":[200,300,400,500,600],"tickSize":-10,"labels":false,"title":null}},"y":{"field":"y","type":"quantitative","scale":{"domain":[0,100],"nice":false,"zero":false},"axis":{"orient":"right","ticks":false,"labels":false,"title":"Intensity (a.u.)","titleAngle":270,"titleBaseline":"top","titlePadding":10,"titleY":121}},"x2":{"field":"x2"},"y2":{"field":"y2"}}},
  {"data":{"name":"c2arr"},"mark":{"type":"point","shape":"M0,0L0.65,2.2L-0.65,2.2Z","size":64,"filled":true,"color":"black","opacity":1},"encoding":{"x":{"field":"x2","type":"quantitative","scale":{"domain":[100,700],"nice":false,"zero":false},"axis":null},"y":{"field":"y2","type":"quantitative","scale":{"domain":[0,100],"nice":false,"zero":false},"axis":null},"angle":{"field":"ang","type":"quantitative","scale":null}}},
  {"data":{"name":"c2txt"},"mark":{"type":"text","align":"left","baseline":"alphabetic","font":"Liberation Sans","fontSize":30,"color":"black"},"encoding":{"x":{"field":"x","type":"quantitative","scale":{"domain":[100,700],"nice":false,"zero":false},"axis":{"orient":"top","values":[150,250,350,450,550,650],"tickSize":-6,"labels":false,"domain":false,"title":null}},"y":{"field":"y","type":"quantitative","scale":{"domain":[0,100],"nice":false,"zero":false},"axis":null},"text":{"field":"t"}}},
  {"data":{"name":"c2ital"},"mark":{"type":"text","align":"left","baseline":"alphabetic","font":"Liberation Sans","fontStyle":"italic","fontSize":30,"color":"black"},"encoding":{"x":{"field":"x","type":"quantitative","scale":{"domain":[100,700],"nice":false,"zero":false},"axis":null},"y":{"field":"y","type":"quantitative","scale":{"domain":[0,100],"nice":false,"zero":false},"axis":null},"text":{"field":"t"}}}
 ]},
 {"width":409,"height":232,"title":{"text":"(a)","orient":"bottom","anchor":"middle","frame":"group","font":"Liberation Serif","fontSize":24,"fontWeight":"normal","color":"black","offset":43,"dx":-43},"resolve":{"axis":{"x":"independent","y":"independent"}},"layer":[
  {"data":{"name":"a3"},"mark":{"type":"point","shape":"circle","size":48,"filled":false,"color":"#111111","strokeWidth":1,"opacity":1},"encoding":{"x":{"field":"x","type":"quantitative","scale":{"domain":[-50,550],"range":[0,323],"nice":false,"zero":false},"axis":{"orient":"bottom","values":[0,100,200,300,400,500],"tickSize":11,"labelPadding":9,"title":"Displacement (nm)","titlePadding":8}},"y":{"field":"y","type":"quantitative","scale":{"domain":[-4.8,57],"nice":false,"zero":false},"axis":{"orient":"left","values":[0,20,40],"tickSize":11,"labelPadding":10,"title":null}}}},
  {"data":{"name":"a3arr"},"mark":{"type":"rule","color":"black","strokeWidth":1.3},"encoding":{"x":{"field":"x","type":"quantitative","scale":{"domain":[-50,550],"range":[0,323],"nice":false,"zero":false},"axis":{"orient":"top","values":[0,100,200,300,400,500],"tickSize":-11,"labels":false,"title":null}},"y":{"field":"y","type":"quantitative","scale":{"domain":[-4.8,57],"nice":false,"zero":false},"axis":{"orient":"right","offset":-86,"values":[0,20,40],"tickSize":-11,"labels":false,"title":null}},"x2":{"field":"x2"},"y2":{"field":"y2"}}},
  {"data":{"name":"a3arr"},"mark":{"type":"point","shape":"M0,0L0.65,2.2L-0.65,2.2Z","size":64,"filled":true,"color":"black","opacity":1},"encoding":{"x":{"field":"x2","type":"quantitative","scale":{"domain":[-50,550],"range":[0,323],"nice":false,"zero":false},"axis":{"orient":"bottom","values":[-50,50,150,250,350,450,550],"tickSize":6,"labels":false,"domain":false,"title":null}},"y":{"field":"y2","type":"quantitative","scale":{"domain":[-4.8,57],"nice":false,"zero":false},"axis":{"orient":"left","values":[10,30,50],"tickSize":6,"labels":false,"domain":false,"title":null}},"angle":{"field":"ang","type":"quantitative","scale":null}}},
  {"data":{"name":"a3txt"},"mark":{"type":"text","align":"left","baseline":"alphabetic","font":"Liberation Sans","fontSize":33,"color":"black"},"encoding":{"x":{"field":"x","type":"quantitative","scale":{"domain":[-50,550],"range":[0,323],"nice":false,"zero":false},"axis":{"orient":"top","values":[-50,50,150,250,350,450,550],"tickSize":-6,"labels":false,"domain":false,"title":null}},"y":{"field":"y","type":"quantitative","scale":{"domain":[-4.8,57],"nice":false,"zero":false},"axis":{"orient":"right","offset":-86,"values":[10,30,50],"tickSize":-6,"labels":false,"domain":false,"title":null}},"text":{"field":"t"}}}
 ]},
 {"width":325,"height":232,"title":{"text":"(b)","orient":"bottom","anchor":"middle","frame":"group","font":"Liberation Serif","fontSize":24,"fontWeight":"normal","color":"black","offset":43,"dx":-36},"resolve":{"axis":{"x":"independent","y":"independent"}},"layer":[
  {"data":{"name":"b3"},"mark":{"type":"point","shape":"circle","size":48,"filled":false,"color":"#111111","strokeWidth":1,"opacity":1},"encoding":{"x":{"field":"x","type":"quantitative","scale":{"domain":[123,425],"nice":false,"zero":false},"axis":{"orient":"bottom","values":[150,200,250,300,350,400],"tickSize":11,"labelPadding":9,"title":"Contact Depth (nm)","titlePadding":8}},"y":{"field":"y","type":"quantitative","scale":{"domain":[0,18.6],"nice":false,"zero":false},"axis":{"orient":"left","values":[0,5,10,15],"tickSize":11,"labelPadding":9,"title":null}}}},
  {"data":{"name":"b3arr"},"mark":{"type":"rule","color":"black","strokeWidth":1.3},"encoding":{"x":{"field":"x","type":"quantitative","scale":{"domain":[123,425],"nice":false,"zero":false},"axis":{"orient":"top","values":[150,200,250,300,350,400],"tickSize":-11,"labels":false,"title":null}},"y":{"field":"y","type":"quantitative","scale":{"domain":[0,18.6],"nice":false,"zero":false},"axis":{"orient":"right","values":[0,5,10,15],"tickSize":-11,"labels":false,"title":null}},"x2":{"field":"x2"},"y2":{"field":"y2"}}},
  {"data":{"name":"b3arr"},"mark":{"type":"point","shape":"M0,0L0.65,2.2L-0.65,2.2Z","size":64,"filled":true,"color":"black","opacity":1},"encoding":{"x":{"field":"x2","type":"quantitative","scale":{"domain":[123,425],"nice":false,"zero":false},"axis":{"orient":"bottom","values":[125,175,225,275,325,375,425],"tickSize":6,"labels":false,"domain":false,"title":null}},"y":{"field":"y2","type":"quantitative","scale":{"domain":[0,18.6],"nice":false,"zero":false},"axis":{"orient":"left","values":[2.5,7.5,12.5,17.5],"tickSize":6,"labels":false,"domain":false,"title":null}},"angle":{"field":"ang","type":"quantitative","scale":null}}},
  {"data":{"name":"b3txt"},"mark":{"type":"text","align":"left","baseline":"alphabetic","font":"Liberation Sans","fontSize":31,"color":"black"},"encoding":{"x":{"field":"x","type":"quantitative","scale":{"domain":[123,425],"nice":false,"zero":false},"axis":{"orient":"top","values":[125,175,225,275,325,375,425],"tickSize":-6,"labels":false,"domain":false,"title":null}},"y":{"field":"y","type":"quantitative","scale":{"domain":[0,18.6],"nice":false,"zero":false},"axis":{"orient":"right","values":[2.5,7.5,12.5,17.5],"tickSize":-6,"labels":false,"domain":false,"title":null}},"text":{"field":"t"}}}
 ]},
 {"width":325,"height":232,"title":{"text":"(c)","orient":"bottom","anchor":"middle","frame":"group","font":"Liberation Serif","fontSize":24,"fontWeight":"normal","color":"black","offset":43,"dx":4},"resolve":{"axis":{"x":"independent","y":"independent"}},"layer":[
  {"data":{"name":"c3"},"mark":{"type":"line","color":"black","strokeWidth":1.6},"encoding":{"x":{"field":"x","type":"quantitative","scale":{"domain":[100,700],"nice":false,"zero":false},"axis":{"orient":"bottom","values":[200,300,400,500,600],"tickSize":8,"labelPadding":9,"title":"Wavenumber (cm⁻¹)","titlePadding":8}},"y":{"field":"y","type":"quantitative","scale":{"domain":[0,100],"nice":false,"zero":false},"axis":{"orient":"left","ticks":false,"labels":false,"title":null}}}},
  {"data":{"name":"c3arr"},"mark":{"type":"rule","color":"black","strokeWidth":1.3},"encoding":{"x":{"field":"x","type":"quantitative","scale":{"domain":[100,700],"nice":false,"zero":false},"axis":{"orient":"top","values":[200,300,400,500,600],"tickSize":-10,"labels":false,"title":null}},"y":{"field":"y","type":"quantitative","scale":{"domain":[0,100],"nice":false,"zero":false},"axis":{"orient":"right","ticks":false,"labels":false,"title":null}},"x2":{"field":"x2"},"y2":{"field":"y2"}}},
  {"data":{"name":"c3arr"},"mark":{"type":"point","shape":"M0,0L0.65,2.2L-0.65,2.2Z","size":64,"filled":true,"color":"black","opacity":1},"encoding":{"x":{"field":"x2","type":"quantitative","scale":{"domain":[100,700],"nice":false,"zero":false},"axis":{"orient":"bottom","values":[150,250,350,450,550,650],"tickSize":6,"labels":false,"domain":false,"title":null}},"y":{"field":"y2","type":"quantitative","scale":{"domain":[0,100],"nice":false,"zero":false},"axis":null},"angle":{"field":"ang","type":"quantitative","scale":null}}},
  {"data":{"name":"c3txt"},"mark":{"type":"text","align":"left","baseline":"alphabetic","font":"Liberation Sans","fontSize":30,"color":"black"},"encoding":{"x":{"field":"x","type":"quantitative","scale":{"domain":[100,700],"nice":false,"zero":false},"axis":{"orient":"top","values":[150,250,350,450,550,650],"tickSize":-6,"labels":false,"domain":false,"title":null}},"y":{"field":"y","type":"quantitative","scale":{"domain":[0,100],"nice":false,"zero":false},"axis":null},"text":{"field":"t"}}},
  {"data":{"name":"c3ital"},"mark":{"type":"text","align":"left","baseline":"alphabetic","font":"Liberation Sans","fontStyle":"italic","fontSize":30,"color":"black"},"encoding":{"x":{"field":"x","type":"quantitative","scale":{"domain":[100,700],"nice":false,"zero":false},"axis":null},"y":{"field":"y","type":"quantitative","scale":{"domain":[0,100],"nice":false,"zero":false},"axis":null},"text":{"field":"t"}}}
 ]}
]
}
